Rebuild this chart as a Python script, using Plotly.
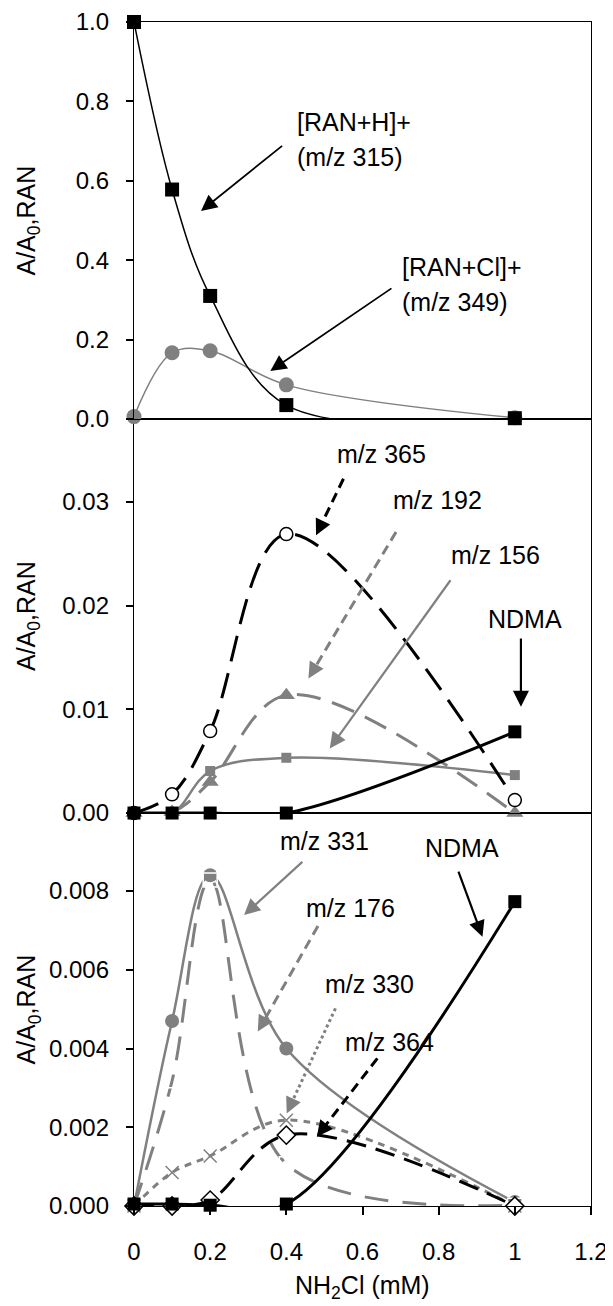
import math
import plotly.graph_objects as go

# ---------------- data ----------------
X = [0, 0.1, 0.2, 0.4, 1.0]

# panel 1
ran_h = [1.0, 0.578, 0.31, 0.035, 0.002]
ran_cl = [0.006, 0.167, 0.172, 0.086, 0.003]

# panel 2
mz365 = [0.0, 0.0018, 0.0079, 0.0269, 0.00125]
mz192 = [0.0, 0.0001, 0.0030, 0.01137, 0.0]
mz156 = [0.0, 0.0, 0.00405, 0.00533, 0.00366]
ndma2 = [0.0, 0.0, 0.0, 0.0, 0.00783]

# panel 3
mz331 = [0.0, 0.0047, 0.0084, 0.0040, 0.0001]
mz176 = [0.0, 0.00318, 0.00828, 0.00107, 0.00002]
mz330 = [0.0, 0.00085, 0.00127, 0.00218, 0.0]
mz364 = [0.0, 0.0, 0.00015, 0.0018, 0.0]
ndma3 = [0.00005, 0.00005, 0.00002, 0.00005, 0.00773]

x_ticks = [0, 0.2, 0.4, 0.6, 0.8, 1.0, 1.2]
x_tick_text = ["0", "0.2", "0.4", "0.6", "0.8", "1", "1.2"]
y_title = "A/A<sub>0</sub>,RAN"
x_title = "NH<sub>2</sub>Cl (mM)"

# ---------------- layout constants ----------------
OFF = 8  # page body margin
W, H = 613 - OFF, 1306 - OFF
ML, MT = 134 - OFF, 22 - OFF
PW = 457
PH = 1184
MR = W - ML - PW
MB = H - MT - PH
GRAY = "#808080"
FONT = "Liberation Sans, Arial, sans-serif"
FS = 24
AFS = 25

dom3 = [0.0, 0.3319]
dom2 = [0.3319, 0.6647]
dom1 = [0.6647, 1.0]
yr1 = [0, 1.0]
yr2 = [0, 0.038]
yr3 = [0, 0.00998]
xr = [0, 1.2]

panels = {
    1: dict(xa="x3", ya="y3", dom=dom1, yr=yr1),
    2: dict(xa="x2", ya="y2", dom=dom2, yr=yr2),
    3: dict(xa="x", ya="y", dom=dom3, yr=yr3),
}

fig = go.Figure()


def add(panel, y, color, width, dash, msym, msize, mfill, mline, mlw=1.5):
    p = panels[panel]
    fig.add_trace(go.Scatter(
        x=X, y=y, xaxis=p["xa"], yaxis=p["ya"], mode="lines+markers",
        line=dict(color=color, width=width, dash=dash, shape="spline", smoothing=1),
        marker=dict(symbol=msym, size=msize, color=mfill,
                    line=dict(color=mline, width=mlw)),
        cliponaxis=False, showlegend=False))


# panel 1
add(1, ran_cl, GRAY, 1.5, "solid", "circle", 15, GRAY, GRAY, 0)
add(1, ran_h, "black", 1.5, "solid", "square", 14, "black", "black", 0)

# panel 2
add(2, mz156, GRAY, 2.5, "solid", "square", 10, GRAY, GRAY, 0)
add(2, mz192, GRAY, 3, "24px,12px", "triangle-up", 15, GRAY, GRAY, 0)
add(2, mz365, "black", 3, "26px,12px", "circle", 13, "white", "black", 1.5)
add(2, ndma2, "black", 3, "solid", "square", 13, "black", "black", 0)

# panel 3
add(3, mz331, GRAY, 2.5, "solid", "circle", 14, GRAY, GRAY, 0)
add(3, mz176, GRAY, 3, "24px,14px", "square-open", 14, "white", GRAY, 1.5)
add(3, mz330, GRAY, 3, "7px,6px", "x-thin-open", 13, GRAY, GRAY, 1.5)
add(3, mz364, "black", 3, "20px,10px", "diamond", 14, "white", "black", 1.5)
add(3, ndma3, "black", 3, "solid", "square", 13, "black", "black", 0)

# ---------------- axes ----------------
axis_common = dict(showline=True, linecolor="black", linewidth=1.3, mirror=True,
                   showgrid=False, zeroline=False,
                   tickfont=dict(family=FONT, size=FS, color="black"))

fig.update_layout(
    xaxis=dict(domain=[0, 1], range=xr, anchor="y", tickvals=x_ticks,
               ticktext=x_tick_text, ticks="outside", ticklen=8, tickwidth=1.5,
               tickcolor="black", ticklabelstandoff=16, **axis_common),
    xaxis2=dict(domain=[0, 1], range=xr, anchor="y2", showticklabels=False,
                ticks="", **axis_common),
    xaxis3=dict(domain=[0, 1], range=xr, anchor="y3", showticklabels=False,
                ticks="", **axis_common),
    yaxis=dict(domain=dom3, range=yr3, anchor="x", tickvals=[0, 0.002, 0.004, 0.006, 0.008],
               tickformat=".3f", ticks="outside", ticklen=7, tickwidth=1.5,
               tickcolor="black", ticklabelstandoff=12, **axis_common),
    yaxis2=dict(domain=dom2, range=yr2, anchor="x2", tickvals=[0, 0.01, 0.02, 0.03],
                tickformat=".2f", ticks="outside", ticklen=7, tickwidth=1.5,
                tickcolor="black", ticklabelstandoff=12, **axis_common),
    yaxis3=dict(domain=dom1, range=yr1, anchor="x3", tickvals=[0, 0.2, 0.4, 0.6, 0.8, 1.0],
                tickformat=".1f", ticks="outside", ticklen=7, tickwidth=1.5,
                tickcolor="black", ticklabelstandoff=12, **axis_common),
)

annotations = []
shapes = []

# axis titles
for p in panels.values():
    annotations.append(dict(
        xref="paper", yref="paper", x=(28 - OFF - ML) / PW, y=(p["dom"][0] + p["dom"][1]) / 2,
        text=y_title, showarrow=False, textangle=-90, xanchor="center", yanchor="middle",
        font=dict(family=FONT, size=AFS, color="black")))
annotations.append(dict(
    xref="paper", yref="paper", x=0.5, y=(MT + PH - (1287 - OFF)) / PH,
    text=x_title, showarrow=False, xanchor="center", yanchor="middle",
    font=dict(family=FONT, size=AFS, color="black")))


def label(panel, x, y, text):
    p = panels[panel]
    annotations.append(dict(
        xref=p["xa"], yref=p["ya"], x=x, y=y, text=text, showarrow=False,
        xanchor="left", yanchor="middle",
        font=dict(family=FONT, size=AFS, color="black")))


def arrow(panel, tail, head, color, dash="solid", width=2.2):
    p = panels[panel]
    sx = PW / (xr[1] - xr[0])
    sy = (p["dom"][1] - p["dom"][0]) * PH / (p["yr"][1] - p["yr"][0])
    dx = (head[0] - tail[0]) * sx
    dy = -(head[1] - tail[1]) * sy
    n = math.hypot(dx, dy)
    ux, uy = dx / n, dy / n
    back = 6.0
    ex = head[0] - ux * back / sx
    ey = head[1] + uy * back / sy
    shapes.append(dict(type="line", xref=p["xa"], yref=p["ya"],
                       x0=tail[0], y0=tail[1], x1=ex, y1=ey,
                       line=dict(color=color, width=width, dash=dash)))
    L = 10
    annotations.append(dict(
        xref=p["xa"], yref=p["ya"], x=head[0], y=head[1], text="",
        showarrow=True, axref="pixel", ayref="pixel", ax=-ux * L, ay=-uy * L,
        arrowhead=2, arrowsize=3.2 / width, arrowwidth=width, arrowcolor=color))


# panel 1 labels
label(1, 0.423, 0.748, "[RAN+H]+")
label(1, 0.423, 0.661, "(m/z 315)")
arrow(1, (0.389, 0.688), (0.176, 0.524), "black", width=1.8)
label(1, 0.698, 0.384, "[RAN+Cl]+")
label(1, 0.698, 0.295, "(m/z 349)")
arrow(1, (0.676, 0.329), (0.358, 0.121), "black", width=1.8)

# panel 2 labels
label(2, 0.529, 0.03465, "m/z 365")
arrow(2, (0.550, 0.03224), (0.478, 0.02678), "black", "10px,6px", 3)
label(2, 0.676, 0.03015, "m/z 192")
arrow(2, (0.688, 0.0271), (0.458, 0.01298), GRAY, "10px,6px", 3)
label(2, 0.826, 0.02486, "m/z 156")
arrow(2, (0.831, 0.02245), (0.514, 0.00623), GRAY, "solid", 2.2)
label(2, 0.924, 0.01876, "NDMA")
arrow(2, (1.016, 0.01683), (1.016, 0.01024), "black", "solid", 2.2)

# panel 3 labels
label(3, 0.378, 0.00926, "m/z 331")
arrow(3, (0.442, 0.00874), (0.289, 0.00739), GRAY, "solid", 2.2)
label(3, 0.760, 0.00909, "NDMA")
arrow(3, (0.852, 0.00849), (0.915, 0.00684), "black", "solid", 2.2)
label(3, 0.447, 0.00756, "m/z 176")
arrow(3, (0.483, 0.00711), (0.325, 0.00443), GRAY, "10px,6px", 3)
label(3, 0.497, 0.00564, "m/z 330")
arrow(3, (0.529, 0.00502), (0.401, 0.00235), GRAY, "3px,3px", 3)
label(3, 0.550, 0.00417, "m/z 364")
arrow(3, (0.639, 0.00375), (0.480, 0.00176), "black", "10px,6px", 3)

fig.update_layout(
    width=W, height=H, margin=dict(l=ML, r=MR, t=MT, b=MB, autoexpand=False),
    paper_bgcolor="white", plot_bgcolor="white",
    font=dict(family=FONT, size=FS, color="black"),
    annotations=annotations, shapes=shapes, showlegend=False,
)

fig.write_html("out.html")
